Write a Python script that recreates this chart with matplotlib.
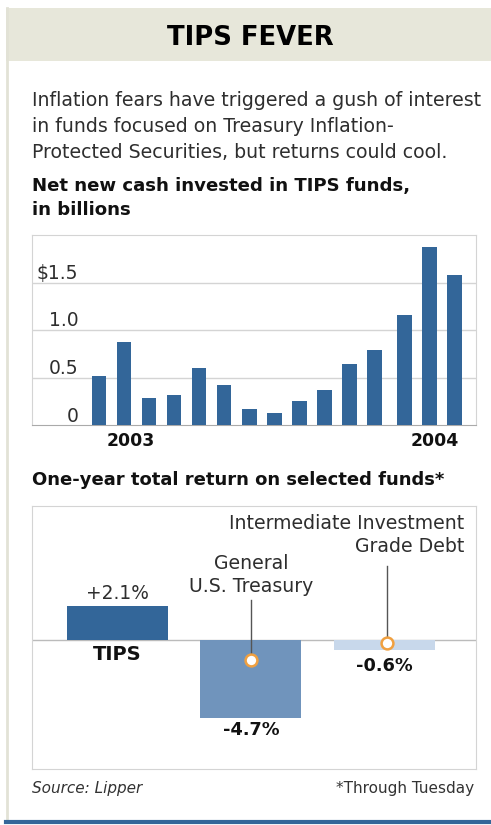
import numpy as np
import matplotlib.pyplot as plt
from matplotlib.patches import Rectangle
from matplotlib.lines import Line2D

plt.rcParams['font.family'] = ['DejaVu Sans']

# monthly net new cash, Jan 2003 - Mar 2004, in billions
months = ['Jan', 'Feb', 'Mar', 'Apr', 'May', 'Jun', 'Jul', 'Aug', 'Sep', 'Oct', 'Nov', 'Dec',
          'Jan', 'Feb', 'Mar']
years = [2003] * 12 + [2004] * 3
cash = [0.52, 0.87, 0.28, 0.32, 0.60, 0.42, 0.17, 0.13, 0.25, 0.37, 0.64, 0.79,
        1.16, 1.87, 1.58]
cash_ticks = [0, 0.5, 1.0, 1.5]
cash_tick_labels = ['0', '0.5', '1.0', '$1.5']

# one-year total return
funds = ['TIPS', 'General\nU.S. Treasury', 'Intermediate Investment\nGrade Debt']
returns = [2.1, -4.7, -0.6]
return_labels = ['+2.1%', '-4.7%', '-0.6%']

W, H = 491, 825
fig = plt.figure(figsize=(W / 100, H / 100), dpi=100)
fig.patch.set_facecolor('white')


def rect(l, t, r, b):
    return [l / W, 1 - b / H, (r - l) / W, (b - t) / H]


def px(x, y):
    return x / W, 1 - y / H


dark = '#336699'
mid = '#7094bc'
light = '#c8d8eb'
grid = '#d4d4d4'
txt = '#2e2e2e'

# frame: header band, left border, bottom rule
fig.patches.append(Rectangle(px(6, 61), (W - 6) / W, 53 / H, transform=fig.transFigure,
                             facecolor='#e7e7da', edgecolor='none'))
fig.lines.append(Line2D([7 / W, 7 / W], [1 - 8 / H, 1 - 821 / H], transform=fig.transFigure,
                        color='#e2e2d6', lw=2))
fig.lines.append(Line2D([6 / W, 1], [1 - 822 / H, 1 - 822 / H], transform=fig.transFigure,
                        color=dark, lw=3))

fig.text(*px(250, 38), 'TIPS FEVER', ha='center', va='center', fontsize=18.6,
         fontweight='heavy', color='black')

para = ['Inflation fears have triggered a gush of interest',
        'in funds focused on Treasury Inflation-',
        'Protected Securities, but returns could cool.']
for i, line in enumerate(para):
    fig.text(*px(32, 101 + 25.5 * i), line, ha='left', va='center', fontsize=13.6, color=txt)

fig.text(*px(32, 186), 'Net new cash invested in TIPS funds,', ha='left', va='center',
         fontsize=13.1, fontweight='bold', color='#111111')
fig.text(*px(32, 210), 'in billions', ha='left', va='center', fontsize=13.1,
         fontweight='bold', color='#111111')

# ---- chart 1
ax1 = fig.add_axes(rect(32, 235, 476, 425))
x = np.arange(len(cash)) + np.where(np.array(years) == 2004, 0.2, 0.0)
ax1.bar(x, cash, width=0.58, color=dark, zorder=3)
ax1.set_xlim(-2.67, 15.05)
ax1.set_ylim(0, 2.0)
for v in cash_ticks[1:]:
    ax1.axhline(v, color=grid, lw=1, zorder=1)
for v, lab in zip(cash_ticks, cash_tick_labels):
    ax1.annotate(lab, (0.104, v), xycoords=ax1.get_yaxis_transform(), xytext=(0, 9),
                 textcoords='offset pixels', ha='right', va='center', fontsize=13.5, color=txt)
ax1.set_xticks([])
ax1.set_yticks([])
for s in ['top', 'left', 'right']:
    ax1.spines[s].set_color(grid)
ax1.spines['bottom'].set_color('#aaaaaa')
ax1.annotate('2003', (1.28, 0), xytext=(0, -16), textcoords='offset pixels',
             ha='center', va='center', fontsize=12.4, fontweight='bold', color='#111111')
ax1.annotate('2004', (13.42, 0), xytext=(0, -16), textcoords='offset pixels',
             ha='center', va='center', fontsize=12.4, fontweight='bold', color='#111111')

fig.text(*px(32, 480), 'One-year total return on selected funds*', ha='left', va='center',
         fontsize=13.0, fontweight='bold', color='#111111')

# ---- chart 2
ax2 = fig.add_axes(rect(32, 506, 476, 769))
xi = np.arange(len(returns))
ax2.bar(xi, returns, width=0.755, color=[dark, mid, light], zorder=2)
ax2.set_xlim(-0.637, 2.684)
ax2.set_ylim(-7.82, 8.14)
ax2.axhline(0, color='#bbbbbb', lw=1, zorder=1)
ax2.set_xticks([])
ax2.set_yticks([])
for s in ax2.spines.values():
    s.set_color(grid)

ax2.annotate(return_labels[0], (xi[0], returns[0]), xytext=(0, 12), textcoords='offset pixels',
             ha='center', va='center', fontsize=13.4, color=txt)
ax2.annotate(funds[0], (xi[0], 0), xytext=(0, -14), textcoords='offset pixels',
             ha='center', va='center', fontsize=14, fontweight='bold', color='#111111')
ax2.annotate(return_labels[1], (xi[1], returns[1]), xytext=(0, -12), textcoords='offset pixels',
             ha='center', va='center', fontsize=12.8, fontweight='bold', color='#111111')
ax2.annotate(return_labels[2], (xi[2], returns[2]), xytext=(0, -16), textcoords='offset pixels',
             ha='center', va='center', fontsize=12.8, fontweight='bold', color='#111111')

# leader lines with circles
ax2.plot([xi[1], xi[1]], [2.42, -1.21], color='#555555', lw=1, zorder=3)
ax2.plot(xi[1], -1.21, 'o', ms=8.5, mfc='white', mec='#f0a040', mew=1.8, zorder=4)
ax2.text(xi[1], 3.96, funds[1], ha='center', va='center', fontsize=13.6,
         color=txt, linespacing=1.25)

ax2.plot([xi[2] + 0.02, xi[2] + 0.02], [4.48, -0.2], color='#555555', lw=1, zorder=3)
ax2.plot(xi[2] + 0.02, -0.2, 'o', ms=8.5, mfc='white', mec='#f0a040', mew=1.8, zorder=4)
ax2.text(2.594, 6.36, funds[2], ha='right', va='center', fontsize=13.6,
         color=txt, linespacing=1.25, multialignment='right')

fig.text(*px(32, 789), 'Source: Lipper', ha='left', va='center', fontsize=11,
         style='italic', color='#333333')
fig.text(*px(474, 789), '*Through Tuesday', ha='right', va='center', fontsize=11,
         color='#333333')

fig.savefig('out.png', dpi=100)
